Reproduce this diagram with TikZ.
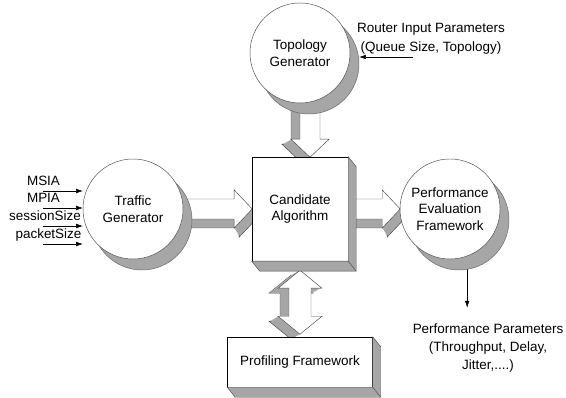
\documentclass[tikz,border=0pt]{standalone}
\usepackage{fontspec}
\setmainfont{Liberation Sans}
\usetikzlibrary{arrows.meta,positioning,shadows}
\pgfdeclarelayer{bg}
\pgfsetlayers{bg,main}

\begin{document}
\begin{tikzpicture}[x=0.03cm, y=0.03cm, on grid]
% Define styles
\tikzstyle{every node} = [font=\fontsize{11.5}{14.2}\selectfont]
\tikzstyle{gencircle} = [circle, minimum size=3cm, inner sep=0pt, align=center, draw=black!70, fill=white, general shadow={fill=gray!70, draw=black!60, shadow xshift=0.27cm, shadow yshift=-0.33cm}]
\tikzstyle{algbox} = [rectangle, minimum width=2.88cm, minimum height=3.12cm, align=center, draw=black, fill=white]
\tikzstyle{profbox} = [rectangle, minimum width=4.35cm, minimum height=1.5cm, draw=black, fill=white]
\tikzstyle{boxside} = [fill=gray!70, draw=black!70]
\tikzstyle{plainlabel} = [inner sep=0pt]
\tikzstyle{inarrow} = [-{Latex[length=2mm,width=1.4mm]}]
\tikzstyle{arrback} = [fill=gray!70, draw=black!70]
\tikzstyle{arrside} = [fill=gray!70]
\tikzstyle{arrfront} = [fill=white, draw=black!70]
\tikzset{
  pics/blockarrow/.style={code={
    \foreach \dd/\sty in {1/arrback,0.85/arrside,0.7/arrside,0.55/arrside,0.4/arrside,0.25/arrside,0.1/arrside,0/arrfront}
      \path[\sty, shift={(5*\dd,-9*\dd)}] (0,-10) -- (#1-18,-10) -- (#1-18,-19) -- (#1,0) -- (#1-18,19) -- (#1-18,10) -- (0,10) -- cycle;
  }},
  pics/dblockarrow/.style={code={
    \foreach \dd/\sty in {1/arrback,0.85/arrside,0.7/arrside,0.55/arrside,0.4/arrside,0.25/arrside,0.1/arrside,0/arrfront}
      \path[\sty, shift={(5*\dd,-9*\dd)}] (0,0) -- (18,22) -- (18,11) -- (#1-18,11) -- (#1-18,22) -- (#1,0) -- (#1-18,-22) -- (#1-18,-11) -- (18,-11) -- (18,-22) -- cycle;
  }}
}

\useasboundingbox (0,0) rectangle (566,398);

% Draw nodes
\node (cand) [algbox] at (300,189) {Candidate\\Algorithm};
\node (topo) [gencircle, above=4.68cm of cand] {Topology\\Generator};
\node (traffic) [gencircle, left=5.01cm of cand] {Traffic\\Generator};
\node (perf) [gencircle, right=4.5cm of cand] {Performance\\Evaluation\\Framework};
\node (prof) [profbox, below=4.59cm of cand] {Profiling Framework};
\node (rip) [above right=0.42cm and 3.93cm of topo, align=center] {Router Input Parameters\\[2.4pt](Queue Size, Topology)};
\node (pp) [below right=4.17cm and 1.14cm of perf, align=center] {Performance Parameters\\[1.2pt](Throughput, Delay,\\[1.2pt]Jitter,....)};

% 3D sides of the boxes
\filldraw [boxside] (cand.north east) -- ++(8,-10) -- ([shift={(8,-10)}]cand.south east) -- ([shift={(8,-10)}]cand.south west) -- (cand.south west) -- (cand.south east) -- cycle;
\draw [black!70] (cand.south east) -- ++(8,-10);
\filldraw [boxside] (prof.north east) -- ++(8,-10) -- ([shift={(8,-10)}]prof.south east) -- ([shift={(8,-10)}]prof.south west) -- (prof.south west) -- (prof.south east) -- cycle;
\draw [black!70] (prof.south east) -- ++(8,-10);

% Inputs
\foreach \lab/\xx/\yy [count=\i] in {MSIA/43.5/207, MPIA/43.5/190, sessionSize/45/172, packetSize/48.5/154} {
  \node (in\i) [plainlabel, anchor=base] at (\xx,\yy+5) {\lab};
  \coordinate (src\i) at (43,\yy);
  \draw [inarrow] (src\i) -- (src\i -| traffic.west);
}
\coordinate (ripin) at (413,341);
\draw [inarrow, shorten >=0.27cm] (ripin) -- (ripin -| topo.east);

% Draw arrows
\begin{pgfonlayer}{bg}
\pic [rotate=-90] at ([xshift=0.3cm]topo.south) {blockarrow=54};
\pic at (traffic.east) {blockarrow=69};
\pic at (cand.east) {blockarrow=52};
\pic [rotate=-90] at ([yshift=-0.27cm]cand.south) {dblockarrow=64};
\draw [inarrow, shorten >=0.36cm] (perf.-70) -- (perf.-70 |- pp.north);
\end{pgfonlayer}
\end{tikzpicture}
\end{document}
